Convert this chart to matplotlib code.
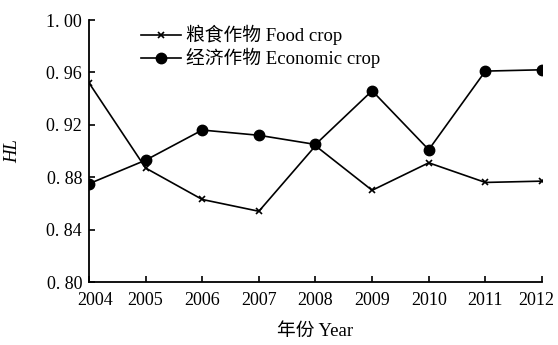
import matplotlib.pyplot as plt
from matplotlib.ticker import FixedLocator
from matplotlib.transforms import ScaledTranslation

years = [2004, 2005, 2006, 2007, 2008, 2009, 2010, 2011, 2012]
food_crop = [0.952, 0.887, 0.863, 0.854, 0.904, 0.870, 0.891, 0.876, 0.877]
economic_crop = [0.875, 0.893, 0.916, 0.912, 0.905, 0.946, 0.901, 0.961, 0.962]
y_ticks = [0.80, 0.84, 0.88, 0.92, 0.96, 1.00]
y_tick_labels = ['0. 80', '0. 84', '0. 88', '0. 92', '0. 96', '1. 00']

fonts = ['Liberation Serif', 'Noto Sans CJK SC']
plt.rcParams['font.family'] = fonts
plt.rcParams['font.size'] = 13

fig = plt.figure(figsize=(5.58, 3.45), dpi=100)
ax = fig.add_axes([0.1595, 0.1826, 0.8118, 0.7594])

ax.plot(years, food_crop, color='black', lw=1.2, marker='x', ms=4, mew=1.2,
        label='粮食作物 Food crop')
ax.plot(years, economic_crop, color='black', lw=1.2, marker='o', ms=7.5,
        label='经济作物 Economic crop')

ax.set_xlim(2004, 2012)
ax.set_ylim(0.80, 1.00)
ax.xaxis.set_major_locator(FixedLocator(years))
ax.set_yticks(y_ticks)
ax.set_yticklabels(y_tick_labels)
ax.spines['top'].set_visible(False)
ax.spines['right'].set_visible(False)
for s in ('left', 'bottom'):
    ax.spines[s].set_linewidth(1.3)
ax.tick_params(direction='in', length=4, width=1.2, labelsize=13)
ax.tick_params(axis='x', pad=7)
ax.tick_params(axis='y', pad=5)

# nudge the end year labels inward so they stay clear of the edges
xlabels = ax.get_xticklabels()
xlabels[0].set_transform(xlabels[0].get_transform()
                         + ScaledTranslation(0.06, 0, fig.dpi_scale_trans))
xlabels[-1].set_transform(xlabels[-1].get_transform()
                          + ScaledTranslation(-0.06, 0, fig.dpi_scale_trans))

ax.set_xlabel('年份 Year', fontsize=13.5, labelpad=10)
ax.set_ylabel('HL', fontsize=13.5, style='italic')
ax.yaxis.set_label_coords(-0.15, 0.5)

ax.legend(loc='upper left', bbox_to_anchor=(0.078, 1.045), frameon=False,
          handlelength=2.1, handletextpad=0.3, labelspacing=0.15, fontsize=13.5)

fig.savefig('out.png', dpi=100)
